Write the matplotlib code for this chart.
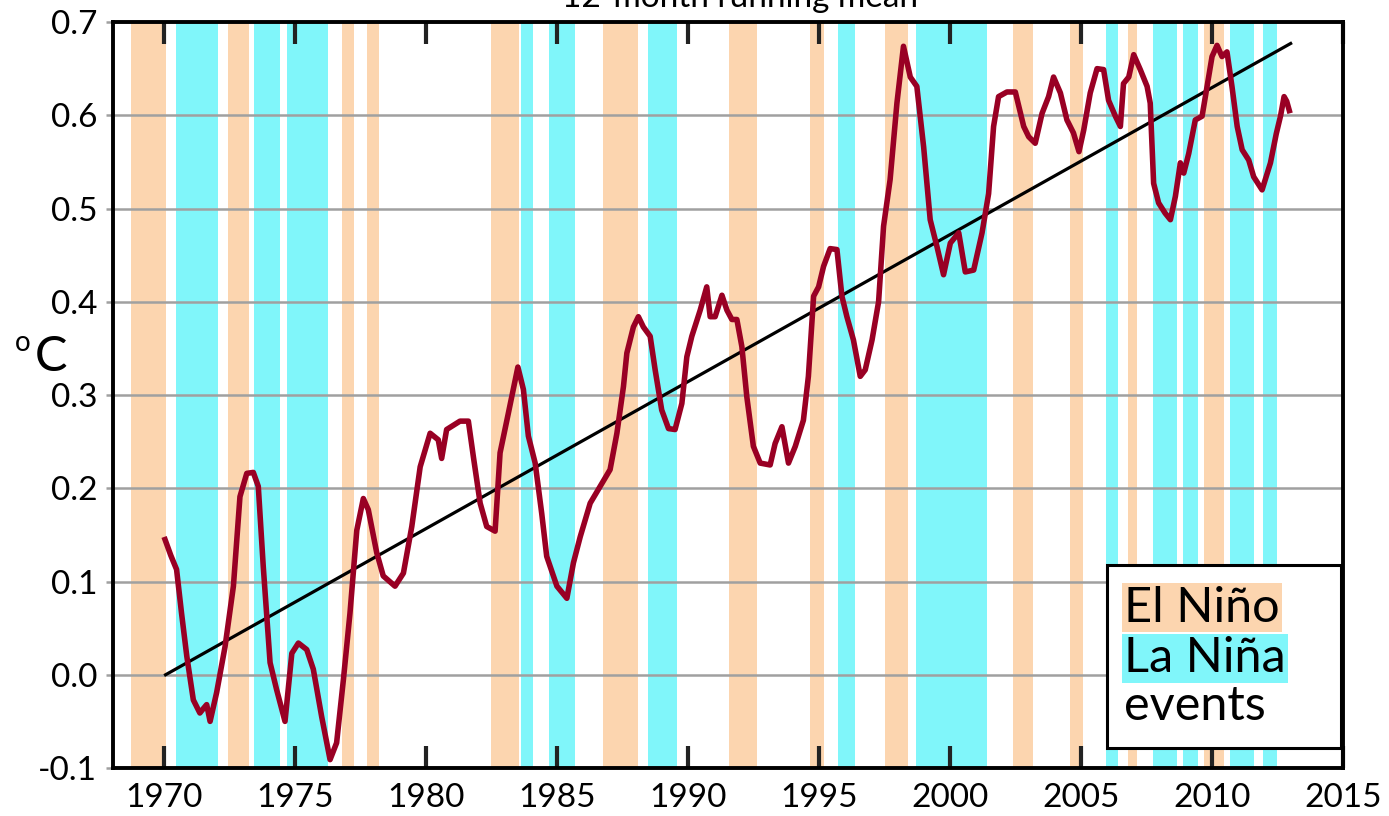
import matplotlib
matplotlib.use("Agg")
import matplotlib.pyplot as plt
from matplotlib.patches import Rectangle

plt.rcParams['font.family'] = ['Lato', 'DejaVu Sans']

# ---------------- data ----------------
years = [1970.03, 1970.25, 1970.47, 1970.66, 1970.86, 1971.11, 1971.36, 1971.50, 1971.62, 1971.75,
         1972.00, 1972.32, 1972.64, 1972.89, 1973.15, 1973.40, 1973.59, 1973.78, 1974.04, 1974.29,
         1974.61, 1974.87, 1975.12, 1975.44, 1975.69, 1976.01, 1976.33, 1976.58, 1976.84, 1977.09,
         1977.35, 1977.60, 1977.79, 1978.11, 1978.36, 1978.81, 1979.13, 1979.45, 1979.77, 1980.15,
         1980.46, 1980.59, 1980.78, 1981.29, 1981.61, 1981.80, 1982.06, 1982.31, 1982.63, 1982.82,
         1983.14, 1983.50, 1983.71, 1983.90, 1984.16, 1984.41, 1984.60, 1984.99, 1985.37, 1985.62,
         1985.88, 1986.26, 1986.64, 1987.02, 1987.28, 1987.53, 1987.66, 1987.91, 1988.10, 1988.29,
         1988.55, 1988.74, 1988.99, 1989.25, 1989.50, 1989.76, 1989.95, 1990.14, 1990.46, 1990.71,
         1990.84, 1991.03, 1991.29, 1991.48, 1991.67, 1991.86, 1992.05, 1992.24, 1992.49, 1992.75,
         1993.13, 1993.32, 1993.58, 1993.83, 1994.09, 1994.40, 1994.59, 1994.79, 1994.98, 1995.17,
         1995.42, 1995.68, 1995.87, 1996.06, 1996.31, 1996.57, 1996.76, 1997.02, 1997.27, 1997.46,
         1997.71, 1997.97, 1998.22, 1998.48, 1998.73, 1998.99, 1999.24, 1999.50, 1999.75, 2000.01,
         2000.33, 2000.58, 2000.90, 2001.22, 2001.47, 2001.66, 2001.85, 2002.17, 2002.49, 2002.81,
         2003.00, 2003.25, 2003.51, 2003.76, 2003.95, 2004.21, 2004.46, 2004.71, 2004.92, 2005.10,
         2005.35, 2005.61, 2005.86, 2006.05, 2006.31, 2006.50, 2006.62, 2006.82, 2007.01, 2007.26,
         2007.52, 2007.64, 2007.77, 2007.96, 2008.21, 2008.41, 2008.60, 2008.79, 2008.92, 2009.11,
         2009.36, 2009.62, 2009.81, 2010.00, 2010.19, 2010.38, 2010.57, 2010.76, 2010.96, 2011.15,
         2011.40, 2011.59, 2011.91, 2012.23, 2012.45, 2012.62, 2012.75, 2012.85, 2012.95]
temps = [0.145, 0.128, 0.113, 0.066, 0.020, -0.027, -0.041, -0.036, -0.032, -0.050,
         -0.019, 0.030, 0.095, 0.191, 0.216, 0.217, 0.202, 0.116, 0.013, -0.016,
         -0.050, 0.023, 0.034, 0.027, 0.006, -0.045, -0.091, -0.073, -0.005, 0.066,
         0.155, 0.189, 0.177, 0.131, 0.106, 0.095, 0.109, 0.159, 0.223, 0.259,
         0.252, 0.232, 0.263, 0.272, 0.272, 0.234, 0.184, 0.159, 0.154, 0.238,
         0.281, 0.330, 0.306, 0.256, 0.227, 0.173, 0.127, 0.095, 0.082, 0.120,
         0.148, 0.184, 0.202, 0.220, 0.259, 0.309, 0.345, 0.373, 0.384, 0.373,
         0.363, 0.327, 0.284, 0.264, 0.263, 0.291, 0.341, 0.363, 0.391, 0.416,
         0.384, 0.384, 0.407, 0.391, 0.381, 0.381, 0.352, 0.298, 0.245, 0.227,
         0.225, 0.248, 0.266, 0.227, 0.245, 0.273, 0.320, 0.406, 0.416, 0.438,
         0.457, 0.456, 0.406, 0.384, 0.359, 0.320, 0.327, 0.359, 0.400, 0.481,
         0.531, 0.613, 0.674, 0.641, 0.631, 0.566, 0.488, 0.459, 0.429, 0.463,
         0.474, 0.432, 0.434, 0.474, 0.516, 0.588, 0.620, 0.625, 0.625, 0.588,
         0.577, 0.570, 0.602, 0.620, 0.641, 0.624, 0.595, 0.581, 0.561, 0.584,
         0.624, 0.650, 0.649, 0.616, 0.599, 0.588, 0.634, 0.641, 0.665, 0.649,
         0.631, 0.613, 0.527, 0.506, 0.495, 0.488, 0.513, 0.549, 0.538, 0.559,
         0.595, 0.599, 0.631, 0.663, 0.675, 0.663, 0.668, 0.631, 0.588, 0.563,
         0.552, 0.534, 0.520, 0.549, 0.580, 0.600, 0.620, 0.615, 0.605]

trend_years = [1970.05, 2013.0]
trend_values = [0.0, 0.677]

elnino_start = [1968.72, 1972.43, 1976.79, 1977.74, 1982.48, 1986.75, 1991.57, 1994.66,
                1997.52, 2002.41, 2004.59, 2006.80, 2009.71]
elnino_end = [1970.06, 1973.23, 1977.25, 1978.20, 1983.55, 1988.09, 1992.64, 1995.20,
              1998.40, 2003.17, 2005.08, 2007.14, 2010.44]
lanina_start = [1970.45, 1973.43, 1974.69, 1983.63, 1984.68, 1988.47, 1995.73, 1998.70,
                2005.96, 2007.73, 2008.91, 2010.70, 2011.96]
lanina_end = [1972.05, 1974.42, 1976.26, 1984.09, 1985.68, 1989.58, 1996.38, 2001.41,
              2006.42, 2008.68, 2009.45, 2011.62, 2012.49]

x_ticks = [1970, 1975, 1980, 1985, 1990, 1995, 2000, 2005, 2010, 2015]
y_ticks = [-0.1, 0.0, 0.1, 0.2, 0.3, 0.4, 0.5, 0.6, 0.7]
y_ticklabels = ['-0.1', '0.0', '0.1', '0.2', '0.3', '0.4', '0.5', '0.6', '0.7']

PEACH = '#FCD5AF'
CYAN = '#80F6FA'
RED = '#990024'

# ---------------- figure ----------------
fig = plt.figure(figsize=(13.89, 8.16), dpi=100)
ax = fig.add_axes([0.0811, 0.0588, 0.8858, 0.9142])

for s, e in zip(elnino_start, elnino_end):
    ax.axvspan(s, e, color=PEACH, lw=0, zorder=0)
for s, e in zip(lanina_start, lanina_end):
    ax.axvspan(s, e, color=CYAN, lw=0, zorder=0)

for yv in y_ticks[1:-1]:
    ax.axhline(yv, color='#a0a0a0', lw=1.8, zorder=1)

ax.plot(trend_years, trend_values, color='black', lw=2.3, zorder=3)
ax.plot(years, temps, color=RED, lw=4.0, zorder=4, solid_joinstyle='round')

ax.set_xlim(1968.03, 2015.0)
ax.set_ylim(-0.1, 0.7)
ax.set_xticks(x_ticks)
ax.set_xticklabels([str(t) for t in x_ticks])
ax.set_yticks(y_ticks)
ax.set_yticklabels(y_ticklabels)

ax.tick_params(axis='x', direction='in', length=16, width=3, color='#222222',
               top=True, bottom=True, labelsize=24, pad=11)
ax.tick_params(axis='y', direction='out', length=5, width=1.8, color='#a0a0a0',
               labelsize=24, pad=6)
for sp in ax.spines.values():
    sp.set_linewidth(2.8)
    sp.set_color('black')
    sp.set_zorder(6)

# y-axis unit label
fig.text(0.011, 0.580, 'o', fontsize=20, ha='left', va='center')
fig.text(0.025, 0.563, 'C', fontsize=35, ha='left', va='center')

# clipped title
fig.text(0.533, 1 - 7 / 816, '12-month running mean', fontsize=24, ha='center', va='baseline')

# legend box
ax.add_patch(Rectangle((0.808, 0.027), 0.19, 0.245, transform=ax.transAxes,
                       facecolor='white', edgecolor='black', lw=2.2, zorder=7))
ax.text(0.822, 0.215, 'El Niño', transform=ax.transAxes, fontsize=35, ha='left',
        va='center', zorder=8,
        bbox=dict(boxstyle='square,pad=0.05', facecolor=PEACH, edgecolor='none'))
ax.text(0.822, 0.147, 'La Niña', transform=ax.transAxes, fontsize=35, ha='left',
        va='center', zorder=8,
        bbox=dict(boxstyle='square,pad=0.05', facecolor=CYAN, edgecolor='none'))
ax.text(0.822, 0.083, 'events', transform=ax.transAxes, fontsize=35, ha='left',
        va='center', zorder=8)

fig.savefig('out.png', dpi=100)
